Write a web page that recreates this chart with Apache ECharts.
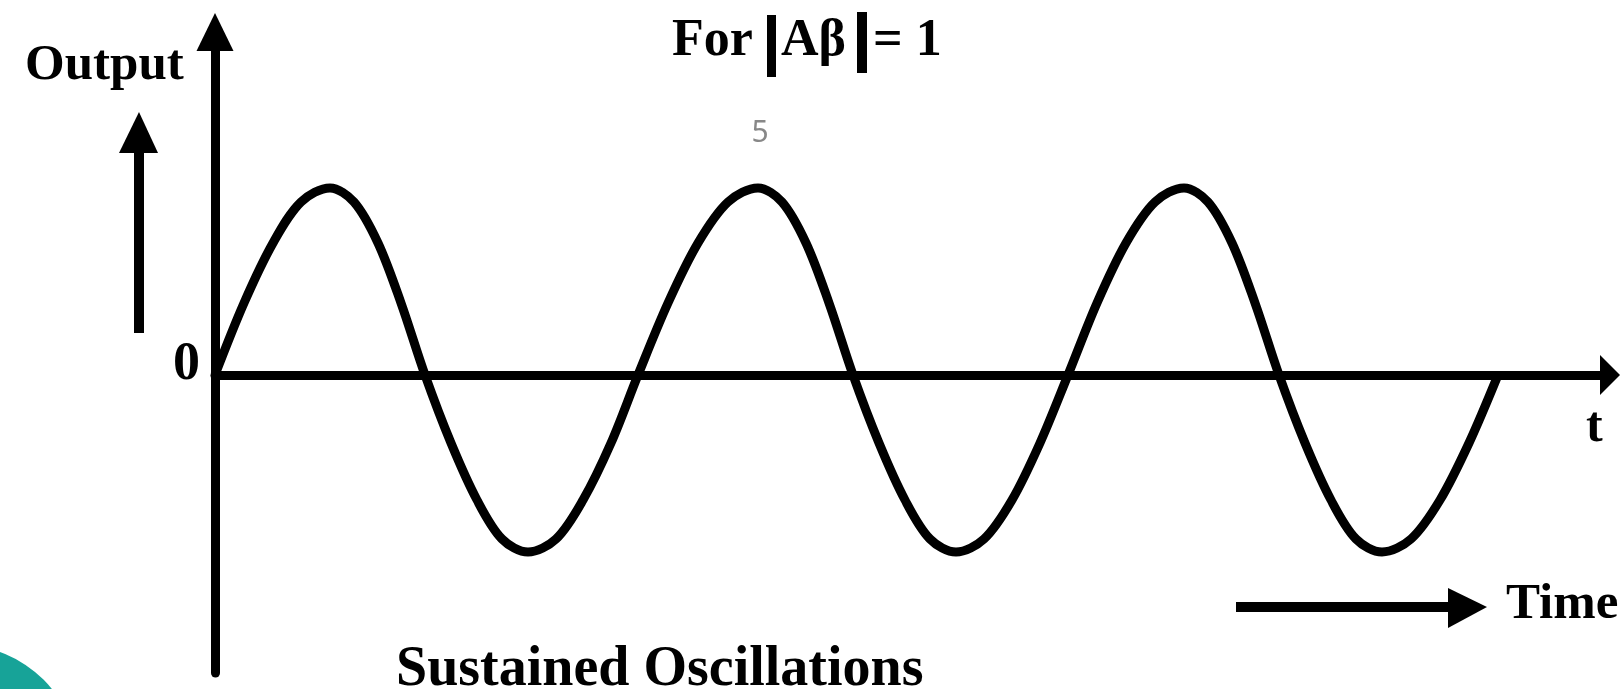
<!DOCTYPE html>
<html>
<head>
<meta charset="utf-8">
<title>Sustained Oscillations</title>
<script src="https://cdn.jsdelivr.net/npm/echarts@6/dist/echarts.min.js"></script>
<style>
  html, body { margin: 0; padding: 0; background: #fff; }
  #chart { width: 1621px; height: 689px; }
</style>
</head>
<body>
<div id="chart"></div>
<script>
// time (x) and output (y), 1 unit ~ 100px
const timePoints = [
  0, 0.29, 0.58, 0.86, 1.15, 1.39, 1.63, 1.86, 2.10, 2.36, 2.62, 2.87, 3.13, 3.41, 3.68, 3.96,
  4.23, 4.53, 4.83, 5.13, 5.43, 5.67, 5.91, 6.14, 6.38, 6.64, 6.90, 7.15, 7.41, 7.69, 7.97, 8.25,
  8.53, 8.82, 9.11, 9.40, 9.69, 9.93, 10.17, 10.40, 10.64, 10.90, 11.16, 11.41, 11.67, 11.96, 12.25, 12.54,
  12.83
];
const outputPoints = [
  0, 0.72, 1.32, 1.73, 1.87, 1.73, 1.32, 0.72, 0, -0.68, -1.25, -1.64, -1.77, -1.64, -1.25, -0.68,
  0, 0.72, 1.32, 1.73, 1.87, 1.73, 1.32, 0.72, 0, -0.68, -1.25, -1.64, -1.77, -1.64, -1.25, -0.68,
  0, 0.72, 1.32, 1.73, 1.87, 1.73, 1.32, 0.72, 0, -0.68, -1.25, -1.64, -1.77, -1.64, -1.25, -0.68,
  0
];
const timeRange = [0, 13.95];
const outputRange = [-2.98, 3.43];

const seriesData = timePoints.map((t, i) => [t, outputPoints[i]]);

const serif = "'Liberation Serif', 'DejaVu Serif', serif";

const chart = echarts.init(document.getElementById("chart"), null, {
  width: 1621,
  height: 689,
});

const option = {
  animation: false,
  backgroundColor: "#fff",
  grid: { left: 215, right: 11, top: 32, bottom: 16 },
  xAxis: {
    type: "value",
    min: timeRange[0],
    max: timeRange[1],
    axisLine: {
      onZero: true,
      symbol: ["none", "triangle"],
      symbolSize: [40, 20],
      lineStyle: { color: "#000", width: 9 },
    },
    axisTick: { show: false },
    axisLabel: { show: false },
    splitLine: { show: false },
  },
  yAxis: {
    type: "value",
    min: outputRange[0],
    max: outputRange[1],
    axisLine: {
      show: true,
      symbol: ["none", "triangle"],
      symbolSize: [37, 38],
      lineStyle: { color: "#000", width: 9 },
    },
    axisTick: { show: false },
    axisLabel: { show: false },
    splitLine: { show: false },
  },
  series: [
    {
      name: "Output",
      type: "line",
      data: seriesData,
      smooth: 0.33,
      symbol: "none",
      lineStyle: { color: "#000", width: 9 },
    },
  ],
  graphic: [
    // teal corner decoration
    { type: "circle", shape: { cx: -40, cy: 763, r: 118 }, style: { fill: "#17a398" } },
    // Output label + small arrow
    { type: "text", x: 25, y: 66, style: { text: "Output", font: "bold 51px " + serif, fill: "#000", verticalAlign: "middle" } },
    { type: "line", shape: { x1: 139, y1: 333, x2: 139, y2: 150 }, style: { stroke: "#000", lineWidth: 10 } },
    { type: "polygon", shape: { points: [[119, 153], [139, 112], [158, 153]] }, style: { fill: "#000" } },
    // title
    { type: "text", x: 672, y: 42, style: { text: "For", font: "bold 52px " + serif, fill: "#000", verticalAlign: "middle" } },
    { type: "rect", shape: { x: 767, y: 15, width: 9, height: 62 }, style: { fill: "#000" } },
    { type: "text", x: 781, y: 42, style: { text: "Aβ", font: "bold 52px " + serif, fill: "#000", verticalAlign: "middle" } },
    { type: "rect", shape: { x: 857, y: 12, width: 10, height: 61 }, style: { fill: "#000" } },
    { type: "text", x: 873, y: 42, style: { text: "= 1", font: "bold 52px " + serif, fill: "#000", verticalAlign: "middle" } },
    // stray label
    { type: "text", x: 760, y: 133, style: { text: "5", font: "30px 'Noto Sans', sans-serif", fill: "#888", align: "center", verticalAlign: "middle" } },
    // origin and axis labels
    { type: "text", x: 173, y: 365, style: { text: "0", font: "bold 54px " + serif, fill: "#000", verticalAlign: "middle" } },
    { type: "text", x: 1586, y: 428, style: { text: "t", font: "bold 50px " + serif, fill: "#000", verticalAlign: "middle" } },
    // Time arrow
    { type: "line", shape: { x1: 1236, y1: 607, x2: 1450, y2: 607 }, style: { stroke: "#000", lineWidth: 10 } },
    { type: "polygon", shape: { points: [[1448, 588], [1487, 607], [1448, 628]] }, style: { fill: "#000" } },
    { type: "text", x: 1506, y: 605, style: { text: "Time", font: "bold 51px " + serif, fill: "#000", verticalAlign: "middle" } },
    // caption
    { type: "text", x: 396, y: 671, style: { text: "Sustained Oscillations", font: "bold 56px " + serif, fill: "#000", verticalAlign: "middle" } },
  ],
};

chart.setOption(option);
</script>
</body>
</html>
